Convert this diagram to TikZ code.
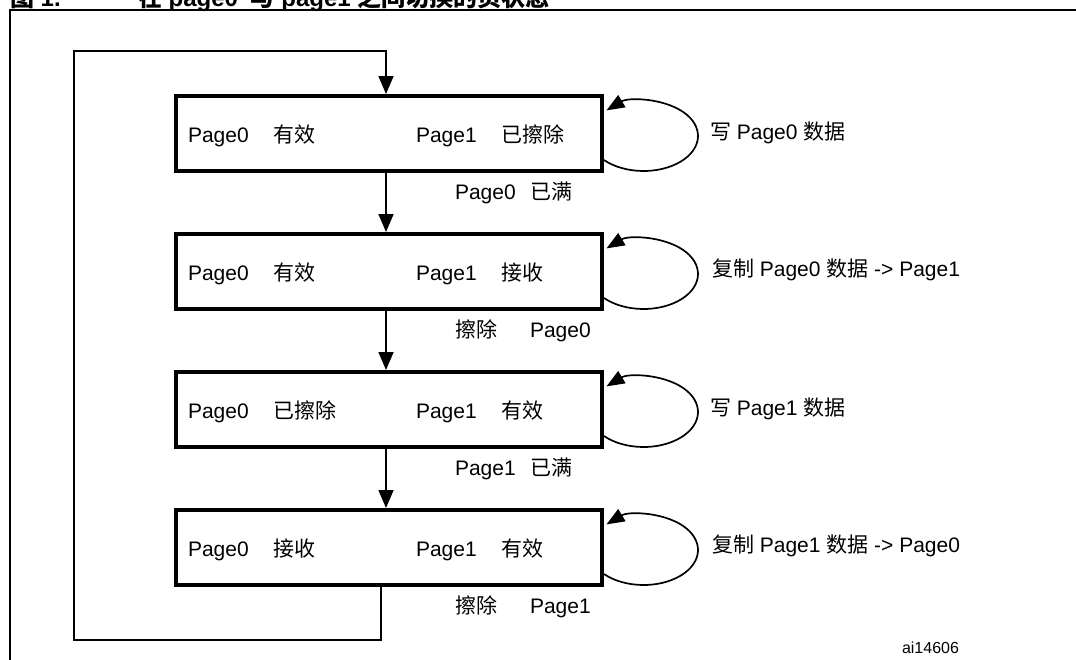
\documentclass[tikz,border=0pt]{standalone}
\usepackage{fontspec}
\setmainfont{Liberation Sans}
\newfontfamily\hanzifont{Noto Sans CJK SC}
\newcommand{\hz}[1]{{\hanzifont #1}}
\usetikzlibrary{arrows.meta}

\begin{document}
\begin{tikzpicture}[x=1pt,y=-1pt,
  every node/.style={inner sep=0pt, outer sep=0pt, font=\fontsize{21}{25}\selectfont},
  state/.style={draw, line width=4pt, minimum width=426pt, minimum height=75pt, outer sep=2pt},
  txt/.style={anchor=base west},
  link/.style={line width=1.7pt, -{Triangle[length=18pt,width=15pt]}},
  selfloop/.style={line width=1.7pt, -{Triangle[length=18pt,width=14pt]}},
  frame/.style={line width=2.5pt},
  caption/.style={anchor=base west, font=\fontsize{24}{28}\selectfont\bfseries},
]
\useasboundingbox (0,0) rectangle (1076,659);

% caption, cut off at the top edge
\begin{scope}
  \clip (0,0) rectangle (1076,659);
  \node[caption] (cap1) at (10,6) {\hz{图} 1.};
  \node[caption] (cap2) at (138,6) {\hz{在} page0\hspace{6pt} \hz{与} page1 \hz{之间切换的页状态}};
\end{scope}

% outer frame
\draw[frame] (10,665) -- (10,10) -- (1080,10);

% the four page states
\node[state] (b1) at (389,133.5) {};
\node[state] (b2) at (389,271.5) {};
\node[state] (b3) at (389,409.5) {};
\node[state] (b4) at (389,547.5) {};

% state texts
\node[txt] (b1p0) at (188,142) {Page0};
\node[txt] (b1s0) at (273,142) {\hz{有效}};
\node[txt] (b1p1) at (416,142) {Page1};
\node[txt] (b1s1) at (501,142) {\hz{已擦除}};

\node[txt] (b2p0) at (188,280) {Page0};
\node[txt] (b2s0) at (273,280) {\hz{有效}};
\node[txt] (b2p1) at (416,280) {Page1};
\node[txt] (b2s1) at (501,280) {\hz{接收}};

\node[txt] (b3p0) at (188,418) {Page0};
\node[txt] (b3s0) at (273,418) {\hz{已擦除}};
\node[txt] (b3p1) at (416,418) {Page1};
\node[txt] (b3s1) at (501,418) {\hz{有效}};

\node[txt] (b4p0) at (188,556) {Page0};
\node[txt] (b4s0) at (273,556) {\hz{接收}};
\node[txt] (b4p1) at (416,556) {Page1};
\node[txt] (b4s1) at (501,556) {\hz{有效}};

% transitions
\draw[link] ([xshift=-3pt]b1.south) -- ([xshift=-3pt]b2.north);
\draw[link] ([xshift=-3pt]b2.south) -- ([xshift=-3pt]b3.north);
\draw[link] ([xshift=-3pt]b3.south) -- ([xshift=-3pt]b4.north);

\node[txt] (t1a) at (455,199) {Page0};
\node[txt] (t1b) at (530,199) {\hz{已满}};
\node[txt] (t2a) at (455,337) {\hz{擦除}};
\node[txt] (t2b) at (530,337) {Page0};
\node[txt] (t3a) at (455,475) {Page1};
\node[txt] (t3b) at (530,475) {\hz{已满}};
\node[txt] (t4a) at (455,613) {\hz{擦除}};
\node[txt] (t4b) at (530,613) {Page1};

% return path back to the first state
\coordinate (r1) at (381,640);
\coordinate (r2) at (74,640);
\coordinate (r3) at (74,51);
\coordinate (r4) at (386,51);
\draw[link] (r1 |- b4.south) -- (r1) -- (r2) -- (r3) -- (r4) -- (r4 |- b1.north);

% self loops
\foreach \b in {b1,b2,b3,b4}
  \draw[selfloop] ([yshift=13pt]\b.south east)
    arc[start angle=136.7, end angle=-133, x radius=54.4, y radius=35];

\node[txt] (l1) at (710,139) {\hz{写} Page0 \hz{数据}};
\node[txt] (l2) at (712,276) {\hz{复制} Page0 \hz{数据} -> Page1};
\node[txt] (l3) at (710,415) {\hz{写} Page1 \hz{数据}};
\node[txt] (l4) at (712,552) {\hz{复制} Page1 \hz{数据} -> Page0};

\node[txt, font=\fontsize{16}{19}\selectfont] (id) at (902,653) {ai14606};
\end{tikzpicture}
\end{document}
